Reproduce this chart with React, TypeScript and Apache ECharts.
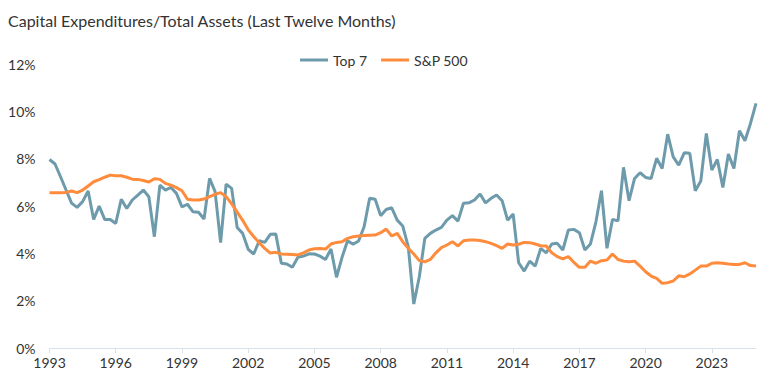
import React, { useEffect, useRef } from "react";
import * as echarts from "echarts";

const title = "Capital Expenditures/Total Assets (Last Twelve Months)";
const startYear = 1993;
const endYear = 2025;
const tickYears = [1993, 1996, 1999, 2002, 2005, 2008, 2011, 2014, 2017, 2020, 2023];
const yTicks = [0, 2, 4, 6, 8, 10, 12];

// Quarterly values, 1993 Q1 .. 2025 Q1
const top7 = [
  7.97, 7.78, 7.24, 6.68, 6.13, 5.95, 6.19, 6.64, 5.44, 6.0, 5.44, 5.44,
  5.27, 6.29, 5.9, 6.26, 6.47, 6.68, 6.4, 4.71, 6.89, 6.68, 6.79, 6.54,
  5.97, 6.08, 5.76, 5.74, 5.46, 7.17, 6.61, 4.46, 6.93, 6.75, 5.1, 4.85,
  4.18, 3.98, 4.54, 4.47, 4.81, 4.82, 3.59, 3.56, 3.42, 3.84, 3.89, 3.99,
  3.98, 3.89, 3.75, 4.19, 3.0, 3.84, 4.54, 4.39, 4.53, 5.13, 6.33, 6.29,
  5.6, 5.86, 5.93, 5.41, 5.16, 4.29, 1.87, 3.02, 4.64, 4.85, 4.99, 5.1,
  5.41, 5.6, 5.37, 6.12, 6.14, 6.26, 6.51, 6.14, 6.33, 6.47, 6.23, 5.41,
  5.67, 3.61, 3.26, 3.68, 3.47, 4.22, 4.03, 4.4, 4.43, 4.15, 4.99, 5.02,
  4.88, 4.15, 4.4, 5.34, 6.65, 4.22, 5.44, 5.38, 7.64, 6.23, 7.17, 7.41,
  7.21, 7.17, 8.02, 7.59, 9.04, 8.08, 7.73, 8.25, 8.23, 6.65, 7.06, 9.07,
  7.52, 7.97, 6.79, 8.2, 7.59, 9.18, 8.76, 9.49, 10.34,
];

const sp500 = [
  6.57, 6.57, 6.57, 6.58, 6.64, 6.57, 6.68, 6.85, 7.03, 7.12, 7.22, 7.31,
  7.28, 7.28, 7.22, 7.14, 7.13, 7.08, 7.02, 7.16, 7.13, 6.96, 6.89, 6.78,
  6.65, 6.29, 6.26, 6.26, 6.3, 6.4, 6.5, 6.57, 6.4, 6.1, 5.75, 5.4,
  5.0, 4.72, 4.45, 4.22, 4.02, 4.05, 3.98, 3.97, 3.96, 3.94, 4.03, 4.15,
  4.2, 4.21, 4.19, 4.4, 4.47, 4.5, 4.64, 4.71, 4.74, 4.76, 4.77, 4.78,
  4.88, 5.03, 4.74, 4.85, 4.5, 4.22, 3.98, 3.7, 3.65, 3.75, 4.03, 4.25,
  4.36, 4.5, 4.32, 4.54, 4.57, 4.57, 4.55, 4.5, 4.43, 4.33, 4.22, 4.4,
  4.36, 4.39, 4.47, 4.46, 4.4, 4.33, 4.32, 4.03, 3.87, 3.77, 3.87, 3.63,
  3.42, 3.42, 3.68, 3.59, 3.7, 3.73, 3.98, 3.75, 3.68, 3.65, 3.68, 3.47,
  3.23, 3.05, 2.95, 2.74, 2.77, 2.84, 3.06, 3.02, 3.14, 3.3, 3.47, 3.47,
  3.59, 3.61, 3.59, 3.56, 3.54, 3.54, 3.61, 3.49, 3.47,
];

const toPairs = (vals: number[]) => vals.map((v, i) => [startYear + i / 4, v]);

export default function App() {
  const ref = useRef<HTMLDivElement>(null);
  useEffect(() => {
    if (!ref.current) return;
    const chart = echarts.init(ref.current, null, { renderer: "svg" });
    const font = "Lato, 'Open Sans', sans-serif";
    chart.setOption({
      animation: false,
      backgroundColor: "#ffffff",
      textStyle: { fontFamily: font },
      title: {
        text: title,
        left: 3,
        top: 7,
        textStyle: { fontFamily: font, fontSize: 16, fontWeight: "normal", color: "#333333" },
      },
      legend: {
        top: 48,
        left: "center",
        icon: "rect",
        itemWidth: 28,
        itemHeight: 3,
        itemGap: 14,
        textStyle: { fontFamily: font, fontSize: 14, color: "#333333" },
        data: ["Top 7", "S&P 500"],
      },
      grid: { left: 49.5, right: 12, top: 64, bottom: 35.7, containLabel: false },
      xAxis: {
        type: "value",
        min: startYear,
        max: endYear,
        interval: 3,
        axisLine: { show: true, lineStyle: { color: "#d9e1ea", width: 1 } },
        axisTick: { show: true, length: 5, lineStyle: { color: "#d9e1ea" }, customValues: tickYears },
        axisLabel: {
          customValues: tickYears,
          margin: 7,
          fontSize: 14,
          color: "#333333",
          fontFamily: font,
          formatter: (v: number) => ((v - startYear) % 3 === 0 && v < endYear ? String(v) : ""),
        },
        splitLine: { show: false },
      },
      yAxis: {
        type: "value",
        min: 0,
        max: 12,
        interval: 2,
        axisLine: { show: false },
        axisTick: { show: false },
        splitLine: { show: false },
        axisLabel: {
          customValues: yTicks,
          margin: 14,
          fontSize: 14,
          color: "#333333",
          fontFamily: font,
          formatter: "{value}%",
        },
      },
      series: [
        {
          name: "Top 7",
          type: "line",
          data: toPairs(top7),
          symbol: "none",
          lineStyle: { color: "#6e9bab", width: 3 },
          itemStyle: { color: "#6e9bab" },
        },
        {
          name: "S&P 500",
          type: "line",
          data: toPairs(sp500),
          symbol: "none",
          lineStyle: { color: "#ff8b3d", width: 3 },
          itemStyle: { color: "#ff8b3d" },
        },
      ],
    });
    return () => chart.dispose();
  }, []);
  return (
    <div
      ref={ref}
      style={{ position: "fixed", left: 0, top: 0, width: 768, height: 384, background: "#fff" }}
    />
  );
}
